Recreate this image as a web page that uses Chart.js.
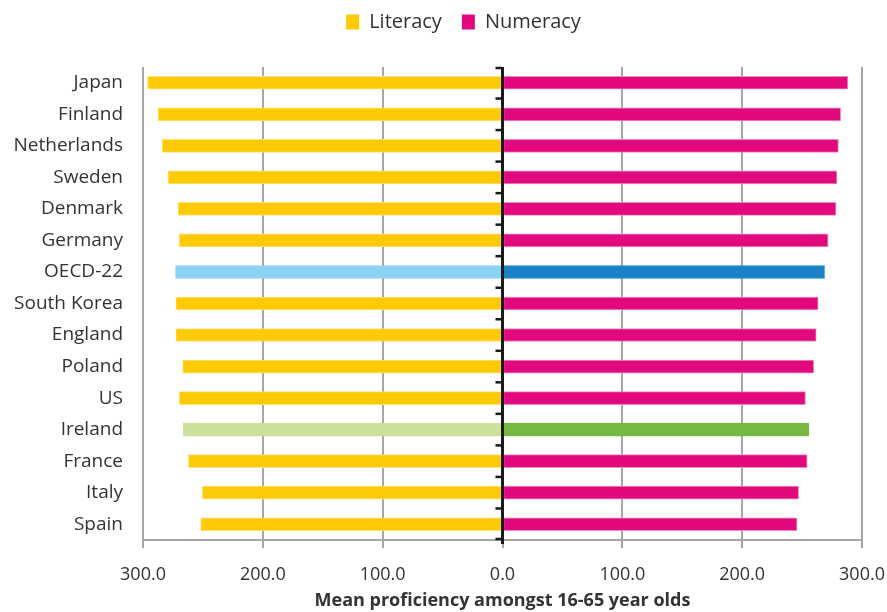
<!DOCTYPE html>
<html>
<head>
<meta charset="utf-8">
<script src="https://cdn.jsdelivr.net/npm/chart.js@4.4.1/dist/chart.umd.min.js"></script>
<style>
  html, body { margin: 0; padding: 0; background: #fff; }
  #wrap { position: relative; width: 887px; height: 612px; }
</style>
</head>
<body>
<div id="wrap"><canvas id="c"></canvas></div>
<script>
// Mean proficiency, literacy drawn to the left, numeracy to the right
const countries = ['Japan', 'Finland', 'Netherlands', 'Sweden', 'Denmark', 'Germany', 'OECD-22',
  'South Korea', 'England', 'Poland', 'US', 'Ireland', 'France', 'Italy', 'Spain'];
const literacy = [296.2, 287.5, 284.0, 279.2, 270.8, 269.8, 272.8, 272.6, 272.6, 266.9, 269.8, 266.5, 262.1, 250.5, 251.8];
const numeracy = [288.2, 282.2, 280.3, 279.1, 278.3, 271.7, 268.7, 263.4, 261.8, 259.7, 252.8, 255.6, 254.2, 247.1, 245.8];
const axisTicks = [-300, -200, -100, 0, 100, 200, 300];

const FONT = "'Open Sans', sans-serif";
const INK = '#333333';
const GRID = '#A6A6A6';
const LIT = '#FDCA05', LIT_EDGE = '#FEE27A';
const NUM = '#E2087E', NUM_EDGE = '#F08CC0';
const special = {
  'OECD-22': { lit: '#89D2F2', num: '#1A81C5' },
  'Ireland': { lit: '#CDE09B', num: '#77B843' },
};
const litColor = countries.map((c) => special[c] ? special[c].lit : LIT);
const numColor = countries.map((c) => special[c] ? special[c].num : NUM);
const litEdge = countries.map((c) => special[c] ? special[c].lit : LIT_EDGE);
const numEdge = countries.map((c) => special[c] ? special[c].num : NUM_EDGE);

// keep the plot top clear of the legend, and nudge the legend into place
const legendGap = {
  id: 'legendGap',
  beforeInit(chart) {
    const fit = chart.legend.fit;
    chart.legend.fit = function () {
      fit.call(this);
      this.height = 67;
    };
  },
  afterLayout(chart) {
    const lg = chart.legend;
    lg.top -= 8;
    lg.left += 20;
    lg.right += 20;
  },
};

// black centre axis with small tick marks between categories
const centreAxis = {
  id: 'centreAxis',
  afterDatasetsDraw(chart) {
    const { ctx, chartArea, scales: { x, y } } = chart;
    const x0 = x.getPixelForValue(0);
    ctx.save();
    ctx.strokeStyle = '#1a1a1a';
    ctx.lineWidth = 3;
    ctx.beginPath();
    ctx.moveTo(x0, chartArea.top);
    ctx.lineTo(x0, chartArea.bottom + 4);
    ctx.stroke();
    ctx.lineWidth = 2.5;
    for (let i = 0; i <= countries.length; i++) {
      const yy = i === 0 ? chartArea.top + 1
        : i === countries.length ? chartArea.bottom - 1
        : (y.getPixelForValue(i - 1) + y.getPixelForValue(i)) / 2;
      ctx.beginPath();
      ctx.moveTo(x0 - 7, yy);
      ctx.lineTo(x0, yy);
      ctx.stroke();
    }
    ctx.restore();
  },
};

new Chart(document.getElementById('c'), {
  type: 'bar',
  data: {
    labels: countries,
    datasets: [
      {
        label: 'Literacy',
        data: literacy.map((v) => -v),
        backgroundColor: litColor,
        borderColor: litEdge,
        borderWidth: 1,
        borderSkipped: false,
        barThickness: 13,
      },
      {
        label: 'Numeracy',
        data: numeracy,
        backgroundColor: numColor,
        borderColor: numEdge,
        borderWidth: 1,
        borderSkipped: false,
        barThickness: 13,
      },
    ],
  },
  options: {
    indexAxis: 'y',
    responsive: true,
    maintainAspectRatio: false,
    animation: false,
    layout: { padding: 0 },
    plugins: {
      tooltip: { enabled: false },
      legend: {
        position: 'top',
        labels: {
          boxWidth: 13,
          boxHeight: 15,
          padding: 20,
          color: INK,
          font: { family: FONT, size: 20 },
          generateLabels: () => [
            { text: 'Literacy', fillStyle: LIT, strokeStyle: LIT, lineWidth: 0, fontColor: INK, datasetIndex: 0 },
            { text: 'Numeracy', fillStyle: NUM, strokeStyle: NUM, lineWidth: 0, fontColor: INK, datasetIndex: 1 },
          ],
        },
      },
    },
    scales: {
      x: {
        stacked: true,
        min: -300,
        max: 300,
        afterBuildTicks: (axis) => { axis.ticks = axisTicks.map((v) => ({ value: v })); },
        afterFit: (axis) => { axis.height = 72; axis.paddingRight = 25; },
        ticks: {
          color: INK,
          padding: 16,
          font: { family: FONT, size: 18 },
          callback: (v) => Math.abs(v).toFixed(1),
          maxRotation: 0,
        },
        grid: { color: GRID, lineWidth: 2, tickLength: 8 },
        border: { color: GRID, width: 2 },
        title: {
          display: true,
          text: 'Mean proficiency amongst 16-65 year olds',
          color: INK,
          font: { family: FONT, size: 18, weight: 'bold' },
          padding: { top: 0, bottom: 0 },
        },
      },
      y: {
        stacked: true,
        afterFit: (axis) => { axis.width = 143; },
        grid: { display: false },
        border: { display: false },
        ticks: {
          color: INK,
          padding: 12,
          font: { family: FONT, size: 19 },
        },
      },
    },
  },
  plugins: [legendGap, centreAxis],
});
</script>
</body>
</html>
